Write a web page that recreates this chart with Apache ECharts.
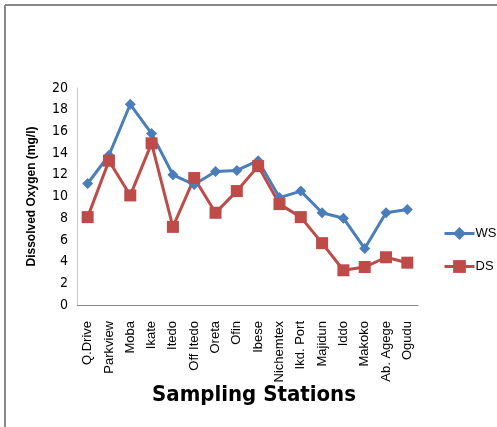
<!DOCTYPE html>
<html><head><meta charset="utf-8">
<script src="https://cdn.jsdelivr.net/npm/echarts@6/dist/echarts.min.js"></script>
<style>html,body{margin:0;padding:0;background:#fff}#c{width:497px;height:427px}</style>
</head><body><div id="c"></div>
<script>
const categories = ["Q.Drive","Parkview","Moba","Ikate","Itedo","Off Itedo","Oreta","Ofin","Ibese","Nichemtex","Ikd. Port","Majidun","Iddo","Makoko","Ab. Agege","Ogudu"];
const wsValues = [11.2,13.8,18.5,15.8,12.0,11.1,12.3,12.4,13.3,9.9,10.5,8.5,8.0,5.2,8.5,8.8];
const dsValues = [8.1,13.3,10.1,14.9,7.2,11.7,8.5,10.5,12.8,9.3,8.1,5.7,3.2,3.5,4.4,3.9];
const yTicks = {min:0,max:20,interval:2};

const chart = echarts.init(document.getElementById('c'));
chart.setOption({
  animation:false,
  backgroundColor:'#fff',
  graphic:[
    {type:'line',shape:{x1:5,y1:5,x2:497,y2:5},style:{stroke:'#888',lineWidth:2}},
    {type:'line',shape:{x1:5,y1:5,x2:5,y2:427},style:{stroke:'#888',lineWidth:2}},
    {type:'text',x:254,y:384,style:{text:'Sampling Stations',align:'center',font:'bold 22px "Liberation Sans Narrow","DejaVu Sans Condensed",sans-serif',fill:'#000'}}
  ],
  grid:{left:77,right:79,top:88,bottom:122,containLabel:false},
  legend:{
    orient:'vertical',left:438,top:222,itemGap:20,itemWidth:30,itemHeight:16,
    lineStyle:{width:3},
    textStyle:{fontSize:13,color:'#000',fontFamily:'"Liberation Sans Narrow",sans-serif',padding:[0,0,0,-4]},
    data:['WS','DS']
  },
  xAxis:{
    type:'category',data:categories,boundaryGap:true,
    axisLine:{lineStyle:{color:'#888',width:1}},
    axisTick:{show:false},
    axisLabel:{rotate:90,interval:0,fontSize:13,color:'#000',fontFamily:'"Liberation Sans",sans-serif',margin:16}
  },
  yAxis:{
    type:'value',min:yTicks.min,max:yTicks.max,interval:yTicks.interval,
    name:'Dissolved Oxygen (mg/l)',nameLocation:'middle',nameGap:39,
    nameTextStyle:{fontSize:12,fontWeight:'bold',color:'#000',fontFamily:'"Liberation Sans",sans-serif'},
    axisLine:{show:true,lineStyle:{color:'#ccc'}},
    axisTick:{show:false},
    splitLine:{show:false},
    axisLabel:{fontSize:14,color:'#000',fontFamily:'"Liberation Sans Narrow","DejaVu Sans Condensed",sans-serif',margin:9}
  },
  series:[
    {name:'WS',type:'line',data:wsValues,symbol:'diamond',symbolSize:11,
     lineStyle:{color:'#4A7EBB',width:3},itemStyle:{color:'#4A7EBB'}},
    {name:'DS',type:'line',data:dsValues,symbol:'rect',symbolSize:12,
     lineStyle:{color:'#BE4B48',width:3},itemStyle:{color:'#BE4B48'}}
  ]
});
</script></body></html>
